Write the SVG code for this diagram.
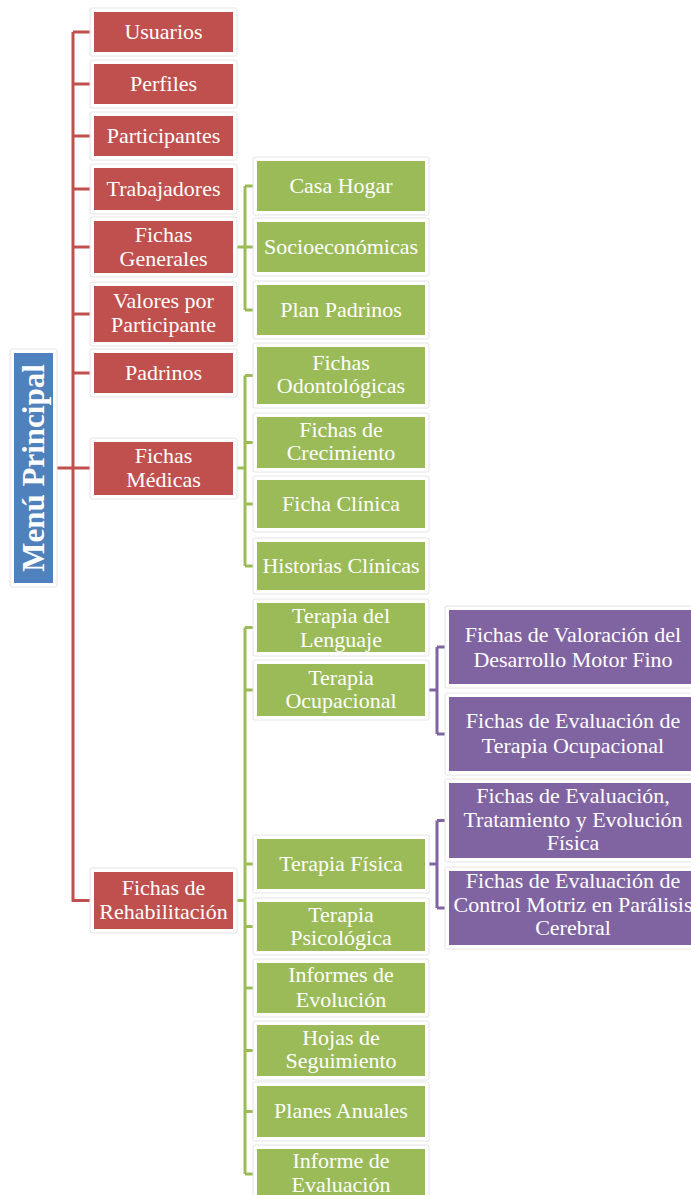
<svg xmlns="http://www.w3.org/2000/svg" width="691" height="1195" viewBox="0 0 691 1195">
<style>
.fr{fill:#ffffff;stroke:#e4e4e4;stroke-width:1}
.r{fill:#C0504D}
.g{fill:#9BBB59}
.p{fill:#8064A2}
.b{fill:#4F81BD}
text{font-family:"Liberation Serif","Times New Roman",serif;font-size:22px;fill:#ffffff;text-anchor:middle}
.t{font-size:31px;font-weight:bold}
.cr{fill:none;stroke:#C0504D;stroke-width:3;stroke-linejoin:round}
.cg{fill:none;stroke:#9BBB59;stroke-width:3;stroke-linejoin:round}
.cp{fill:none;stroke:#8064A2;stroke-width:3;stroke-linejoin:round}
</style>
<rect width="691" height="1195" fill="#ffffff"/>
<g id="connectors">
<path class="cr" d="M53,468 H94 M73,32 V902 M73,32 H94 M73,84 H94 M73,136 H94 M73,189 H94 M73,247 H94 M73,314 H94 M73,373 H94 M73,900.5 H94"/>
<path class="cg" d="M233,247 H257 M245,186 V310 M245,186 H257 M245,310 H257"/>
<path class="cg" d="M233,468 H245 M245,375.5 V566 M245,375.5 H257 M245,442.5 H257 M245,504 H257 M245,566 H257"/>
<path class="cg" d="M233,900.5 H245 M245,627.5 V1174 M245,627.5 H257 M245,690 H257 M245,864 H257 M245,926.5 H257 M245,988 H257 M245,1050.5 H257 M245,1111.5 H257 M245,1174 H257"/>
<path class="cp" d="M425,690 H437 M437,647 V734 M437,647 H449 M437,734 H449"/>
<path class="cp" d="M425,864 H437 M437,820.5 V908 M437,820.5 H449 M437,908 H449"/>
</g>
<g id="menu"><rect class="fr" x="10" y="349" width="47" height="238" rx="2"/><rect class="b" x="14" y="353" width="39" height="230"/><text class="t" transform="translate(44,468) rotate(-90)">Menú Principal</text></g>
<g id="usuarios"><rect class="fr" x="90" y="8" width="147" height="48" rx="2"/><rect class="r" x="94" y="12" width="139" height="40"/><text x="163.5" y="39">Usuarios</text></g>
<g id="perfiles"><rect class="fr" x="90" y="60" width="147" height="48" rx="2"/><rect class="r" x="94" y="64" width="139" height="40"/><text x="163.5" y="91">Perfiles</text></g>
<g id="participantes"><rect class="fr" x="90" y="112" width="147" height="48" rx="2"/><rect class="r" x="94" y="116" width="139" height="40"/><text x="163.5" y="143">Participantes</text></g>
<g id="trabajadores"><rect class="fr" x="90" y="164" width="147" height="50" rx="2"/><rect class="r" x="94" y="168" width="139" height="42"/><text x="163.5" y="196">Trabajadores</text></g>
<g id="fichas-generales"><rect class="fr" x="90" y="217" width="147" height="60" rx="2"/><rect class="r" x="94" y="221" width="139" height="52"/><text x="163.5" y="242">Fichas</text><text x="163.5" y="266">Generales</text></g>
<g id="valores"><rect class="fr" x="90" y="282" width="147" height="64" rx="2"/><rect class="r" x="94" y="286" width="139" height="56"/><text x="163.5" y="308">Valores por</text><text x="163.5" y="332">Participante</text></g>
<g id="padrinos"><rect class="fr" x="90" y="349" width="147" height="48" rx="2"/><rect class="r" x="94" y="353" width="139" height="40"/><text x="163.5" y="380">Padrinos</text></g>
<g id="fichas-medicas"><rect class="fr" x="90" y="438" width="147" height="61" rx="2"/><rect class="r" x="94" y="442" width="139" height="53"/><text x="163.5" y="463">Fichas</text><text x="163.5" y="487">Médicas</text></g>
<g id="fichas-rehab"><rect class="fr" x="90" y="868" width="147" height="65" rx="2"/><rect class="r" x="94" y="872" width="139" height="57"/><text x="163.5" y="895">Fichas de</text><text x="163.5" y="919">Rehabilitación</text></g>
<g id="casa-hogar"><rect class="fr" x="253" y="157" width="176" height="58" rx="2"/><rect class="g" x="257" y="161" width="168" height="50"/><text x="341" y="193">Casa Hogar</text></g>
<g id="socioeconomicas"><rect class="fr" x="253" y="218" width="176" height="58" rx="2"/><rect class="g" x="257" y="222" width="168" height="50"/><text x="341" y="254">Socioeconómicas</text></g>
<g id="plan-padrinos"><rect class="fr" x="253" y="281" width="176" height="58" rx="2"/><rect class="g" x="257" y="285" width="168" height="50"/><text x="341" y="317">Plan Padrinos</text></g>
<g id="odontologicas"><rect class="fr" x="253" y="343" width="176" height="65" rx="2"/><rect class="g" x="257" y="347" width="168" height="57"/><text x="341" y="370">Fichas</text><text x="341" y="393">Odontológicas</text></g>
<g id="crecimiento"><rect class="fr" x="253" y="413" width="176" height="59" rx="2"/><rect class="g" x="257" y="417" width="168" height="51"/><text x="341" y="437">Fichas de</text><text x="341" y="460">Crecimiento</text></g>
<g id="ficha-clinica"><rect class="fr" x="253" y="476" width="176" height="56" rx="2"/><rect class="g" x="257" y="480" width="168" height="48"/><text x="341" y="511">Ficha Clínica</text></g>
<g id="historias"><rect class="fr" x="253" y="538" width="176" height="56" rx="2"/><rect class="g" x="257" y="542" width="168" height="48"/><text x="341" y="573">Historias Clínicas</text></g>
<g id="lenguaje"><rect class="fr" x="253" y="599" width="176" height="57" rx="2"/><rect class="g" x="257" y="603" width="168" height="49"/><text x="341" y="623">Terapia del</text><text x="341" y="647">Lenguaje</text></g>
<g id="ocupacional"><rect class="fr" x="253" y="660" width="176" height="60" rx="2"/><rect class="g" x="257" y="664" width="168" height="52"/><text x="341" y="685">Terapia</text><text x="341" y="708">Ocupacional</text></g>
<g id="fisica"><rect class="fr" x="253" y="835" width="176" height="58" rx="2"/><rect class="g" x="257" y="839" width="168" height="50"/><text x="341" y="871">Terapia Física</text></g>
<g id="psicologica"><rect class="fr" x="253" y="898" width="176" height="57" rx="2"/><rect class="g" x="257" y="902" width="168" height="49"/><text x="341" y="922">Terapia</text><text x="341" y="945">Psicológica</text></g>
<g id="informes"><rect class="fr" x="253" y="959" width="176" height="58" rx="2"/><rect class="g" x="257" y="963" width="168" height="50"/><text x="341" y="982">Informes de</text><text x="341" y="1007">Evolución</text></g>
<g id="hojas"><rect class="fr" x="253" y="1021" width="176" height="59" rx="2"/><rect class="g" x="257" y="1025" width="168" height="51"/><text x="341" y="1045">Hojas de</text><text x="341" y="1068">Seguimiento</text></g>
<g id="planes"><rect class="fr" x="253" y="1082" width="176" height="59" rx="2"/><rect class="g" x="257" y="1086" width="168" height="51"/><text x="341" y="1118">Planes Anuales</text></g>
<g id="informe-eval"><rect class="fr" x="253" y="1145" width="176" height="58" rx="2"/><rect class="g" x="257" y="1149" width="168" height="50"/><text x="341" y="1168">Informe de</text><text x="341" y="1192">Evaluación</text></g>
<g id="valoracion"><rect class="fr" x="445" y="606" width="256" height="82" rx="2"/><rect class="p" x="449" y="610" width="248" height="74"/><text x="573" y="642">Fichas de Valoración del</text><text x="573" y="667">Desarrollo Motor Fino</text></g>
<g id="eval-to"><rect class="fr" x="445" y="693" width="256" height="82" rx="2"/><rect class="p" x="449" y="697" width="248" height="74"/><text x="573" y="728">Fichas de Evaluación de</text><text x="573" y="753">Terapia Ocupacional</text></g>
<g id="eval-fisica"><rect class="fr" x="445" y="779" width="256" height="83" rx="2"/><rect class="p" x="449" y="783" width="248" height="75"/><text x="573" y="803">Fichas de Evaluación,</text><text x="573" y="827">Tratamiento y Evolución</text><text x="573" y="850">Física</text></g>
<g id="control-motriz"><rect class="fr" x="445" y="867" width="256" height="82" rx="2"/><rect class="p" x="449" y="871" width="248" height="74"/><text x="573" y="888">Fichas de Evaluación de</text><text x="573" y="912">Control Motriz en Parálisis</text><text x="573" y="935">Cerebral</text></g>
</svg>
